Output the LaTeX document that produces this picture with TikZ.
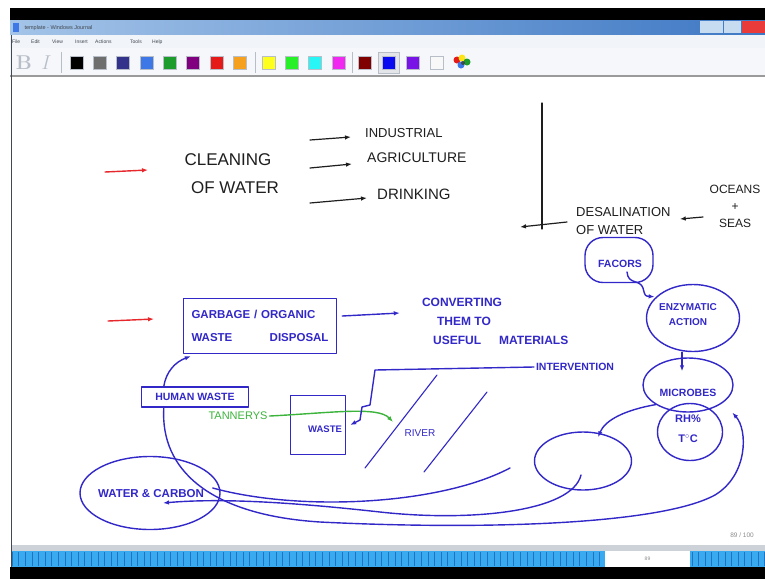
\documentclass[tikz,border=0pt]{standalone}
\usepackage{fontspec}
\newfontfamily\handfont{Liberation Sans}
\newcommand\inkfont[2]{\handfont\fontsize{#1}{#2}\selectfont}
\usepackage{tikz}
\usetikzlibrary{arrows.meta,positioning,calc,shapes.geometric}
\definecolor{JInk}{HTML}{3228C8}
\definecolor{JPencil}{HTML}{1E1E1E}
\definecolor{JRed}{HTML}{E6282D}
\definecolor{JGreen}{HTML}{3CB43C}
\definecolor{JTitleA}{HTML}{A4C4E8}
\definecolor{JTitleB}{HTML}{3E78C4}
\definecolor{JMenu}{HTML}{F1F4F9}
\definecolor{JTool}{HTML}{F5F7FA}
\definecolor{JUiText}{HTML}{404850}
\definecolor{JUiGrey}{HTML}{8C8C8C}
\definecolor{JUiLine}{HTML}{9A9A9A}
\definecolor{JFrame}{HTML}{B8BEC8}
\definecolor{JBar}{HTML}{3AAAF0}
\definecolor{JStripe}{HTML}{1E74C0}
\definecolor{JSwGrey}{HTML}{6E6E6E}
\definecolor{JSwNavy}{HTML}{33338C}
\definecolor{JSwBlue}{HTML}{3D78E6}
\definecolor{JSwGreen}{HTML}{1E9B2D}
\definecolor{JSwPurple}{HTML}{800080}
\definecolor{JSwRed}{HTML}{E61919}
\definecolor{JSwOrange}{HTML}{F5A01E}
\definecolor{JSwYellow}{HTML}{FFFF1E}
\definecolor{JSwLime}{HTML}{28F028}
\definecolor{JSwCyan}{HTML}{28F5F5}
\definecolor{JSwMagenta}{HTML}{F028F0}
\definecolor{JSwMaroon}{HTML}{800000}
\definecolor{JSwRoyal}{HTML}{0A0AF0}
\definecolor{JSwViolet}{HTML}{7814E6}
\definecolor{JSwWhite}{HTML}{F8F8F8}

\begin{document}
\begin{tikzpicture}[x=1pt,y=-1pt,
    handpen/.style={line width=1.4pt,line cap=round,line join=round},
    inkline/.style={handpen,draw=JInk},
    blkline/.style={handpen,draw=JPencil,line width=1.2pt},
    redline/.style={handpen,draw=JRed},
    grnline/.style={handpen,draw=JGreen},
    inktip/.style={-{Latex[length=6pt,width=4.5pt]}},
    blacktext/.style={text=JPencil,inner sep=2pt,font={\inkfont{14}{18}}},
    inktext/.style={text=JInk,inner sep=2pt,font={\inkfont{10.5}{15}\bfseries}},
    blob/.style={ellipse,draw=JInk,handpen,inner sep=0pt},
    inkbox/.style={rectangle,draw=JInk,handpen,inner sep=3pt},
    swatch/.style={draw=JFrame,line width=0.4pt,minimum size=13pt,inner sep=0pt}]
    \useasboundingbox (0,0) rectangle (765,579);
    \fill[white] (0,0) rectangle (765,579);

    % window frame
    \fill[black] (10,8) rectangle (765,20);
    \shade[left color=JTitleA,right color=JTitleB] (10,20) rectangle (765,35);
    \fill[JTitleA!60!white] (700,21) rectangle (723,33);
    \fill[JTitleA!60!white] (724,21) rectangle (741,33);
    \fill[JSwRed!85!white] (742,21) rectangle (765,33);
    \fill[JSwBlue] (13,23) rectangle (19,32);
    \node[anchor=west,text=JUiText,font={\inkfont{5.5}{6}}] (title) at (21,28) {template - Windows Journal};
    \fill[JMenu] (10,35) rectangle (765,48);
    \foreach \m/\x in {File/11,Edit/30,View/51,Insert/74,Actions/94,Tools/129,Help/151}
      \node[anchor=west,text=JUiText,font={\inkfont{5}{5}},inner sep=1pt] (menu\m) at (\x,42) {\m};
    \fill[JTool] (10,48) rectangle (765,75);
    \draw[JUiLine,line width=1.5pt] (10,76) -- (765,76);

    % toolbar
    \node[text=JFrame,font=\bfseries\fontsize{20}{20}\selectfont] (bold) at (24,63) {B};
    \node[text=JFrame,font=\itshape\fontsize{20}{20}\selectfont] (ital) at (45,63) {I};
    \draw[JFrame] (61,52) -- (61,73);
    \foreach \c [count=\i from 0] in {black,JSwGrey,JSwNavy,JSwBlue,JSwGreen,JSwPurple,JSwRed,JSwOrange}
      \node[swatch,fill=\c] (swa\i) at ({76.5+23.3*\i},62.5) {};
    \draw[JFrame] (255,52) -- (255,73);
    \foreach \c [count=\i from 0] in {JSwYellow,JSwLime,JSwCyan,JSwMagenta}
      \node[swatch,fill=\c] (swb\i) at ({268.5+23.3*\i},62.5) {};
    \draw[JFrame] (352,52) -- (352,73);
    \filldraw[fill=JFrame!40!white,draw=JFrame] (378,52) rectangle (399,73);
    \foreach \c [count=\i from 0] in {JSwMaroon,JSwRoyal,JSwViolet,JSwWhite}
      \node[swatch,fill=\c] (swc\i) at ({364.5+24*\i},62.5) {};
    \fill[JSwRed] (457,60) circle (3.5);
    \fill[JSwYellow!80!orange] (462,58) circle (3.5);
    \fill[JSwGreen] (467,62) circle (3.5);
    \fill[JSwBlue] (461,65) circle (3.5);
    \fill[JUiText] (463,63) circle (2);

    % page and page bar
    \draw[JUiText,line width=1pt] (11,35) -- (11,567);
    \fill[JFrame!70!white] (12,545) rectangle (765,551);
    \fill[JBar] (12,551) rectangle (765,567);
    \foreach \i in {0,...,114}
      \draw[JStripe,line width=0.6pt] ({12+\i*6.6},552) -- ({12+\i*6.6},566);
    \node[fill=white,minimum width=85pt,minimum height=16pt,inner sep=0pt,text=JUiGrey,font={\inkfont{5}{5}}] (pgbox) at (647.5,559) {89};
    \fill[black] (10,567) rectangle (765,579);
    \node[text=JUiGrey,font={\inkfont{6.5}{7}}] (pgnum) at (742,535) {89 / 100};

    % cleaning of water
    \coordinate (r1a) at (105,172);
    \coordinate (r1b) at (148,170);
    \draw[redline,inktip] (r1a) -- (r1b);
    \node[blacktext,font={\inkfont{17}{20}}] (cln) at (228,160) {CLEANING};
    \node[blacktext,font={\inkfont{17}{20}}] (ofw) at (235,188) {OF WATER};
    \node[blacktext,font={\inkfont{13}{16}},anchor=west] (ind) at (363,133) {INDUSTRIAL};
    \node[blacktext,anchor=west] (agr) at (365,158) {AGRICULTURE};
    \node[blacktext,font={\inkfont{15}{18}},anchor=west] (drk) at (375,194) {DRINKING};
    \coordinate (a1) at (310,140);
    \coordinate (a2) at (310,168);
    \coordinate (a3) at (310,203);
    \draw[blkline,inktip] (a1) -- ($(ind.west)+(-12,4)$);
    \draw[blkline,inktip] (a2) -- ($(agr.west)+(-13,6)$);
    \draw[blkline,inktip] (a3) -- ($(drk.west)+(-8,4)$);

    % desalination
    \node[blacktext,font={\inkfont{13}{18}},align=left,anchor=west] (desal) at (574,221) {DESALINATION\\OF WATER};
    \node[blacktext,font={\inkfont{12}{17}},align=center] (seas) at (735,206) {OCEANS\\+\\SEAS};
    \coordinate (vtop) at (542,103);
    \coordinate (vbot) at (542,229);
    \coordinate (hl) at (520,227);
    \coordinate (o1) at (703,217);
    \draw[blkline] (vtop) -- (vbot);
    \draw[blkline,inktip] ($(desal.west)+(-7,1)$) -- (hl);
    \draw[blkline,inktip] (o1) -- ($(desal.east)+(7,-2)$);

    % factors, enzymes, microbes
    \node[rectangle,rounded corners=18pt,draw=JInk,handpen,minimum width=68pt,minimum height=45pt] (fac) at (619,260) {};
    \node[inktext] (factxt) at (620,264) {FACORS};
    \node[blob,minimum width=93pt,minimum height=67pt] (enz) at (693,318) {};
    \node[inktext,font={\inkfont{10}{15}\bfseries},align=center] (enztxt) at (688,315) {ENZYMATIC\\ACTION};
    \node[blob,minimum width=90pt,minimum height=54pt] (micro) at (688,385) {};
    \node[inktext] (microtxt) at (688,393) {MICROBES};
    \node[blob,minimum width=65pt,minimum height=57pt] (rh) at (690,432) {};
    \node[inktext,font={\inkfont{11}{20}\bfseries},align=center] (rhtxt) at (688,429) {RH\%\\T$^{\circ}$C};
    \node[blob,minimum width=97pt,minimum height=58pt] (blank) at (583,461) {};
    \draw[inkline,inktip] ($(fac.center)+(8,12)$) .. controls (628,285) and (640,279) .. (643,288)
      .. controls (645,296) .. ($(enz.north west)+(-5,3)$);
    \draw[inkline,inktip] ($(enz.south)+(-11,0)$) -- ($(micro.north)+(-6,14)$);
    \draw[inkline,inktip] (micro.south west) .. controls (625,410) and (605,420) .. ($(blank.north)+(15,6)$);

    % garbage / organic waste
    \coordinate (r2a) at (108,321);
    \coordinate (r2b) at (154,319);
    \draw[redline,inktip] (r2a) -- (r2b);
    \node[inkbox,minimum width=153pt,minimum height=55pt,text width=137pt,align=left,text=JInk,font={\inkfont{11.5}{23}\bfseries}] (garb) at (260,326)
      {GARBAGE / ORGANIC\\WASTE\hfill DISPOSAL};
    \node[inktext,font={\inkfont{12}{16}\bfseries}] (conv1) at (462,302) {CONVERTING};
    \node[inktext,font={\inkfont{12}{16}\bfseries}] (conv2) at (464,321) {THEM TO};
    \node[inktext,font={\inkfont{12}{16}\bfseries},anchor=west] (conv3) at (431,340) {USEFUL\hspace{18pt}MATERIALS};
    \draw[inkline,inktip] ($(garb.east)+(5,-10)$) -- ($(conv1.west)+(-20,11)$);

    % human waste, tanneries, river
    \node[inkbox,minimum width=107pt,minimum height=20pt,text=JInk,font={\inkfont{10.5}{12}\bfseries}] (hw) at (195,397) {HUMAN WASTE};
    \draw[inkline,inktip] ($(hw.north west)+(23,0)$) .. controls (166,372) and (175,362) .. ($(garb.south west)+(8,2)$);
    \node[inkbox,minimum width=55pt,minimum height=59pt] (tank) at (318,425) {};
    \node[inktext,font={\inkfont{9.5}{12}\bfseries}] (tanktxt) at (325,429) {WASTE};
    \node[inktext,text=JGreen,font={\inkfont{11}{15}}] (tan) at (238,416) {TANNERYS};
    \coordinate (rivin) at (393,422);
    \draw[grnline,inktip] (tan.east) .. controls (330,413) and (378,406) .. (rivin);
    \coordinate (rv1a) at (437,375);
    \coordinate (rv1b) at (365,468);
    \coordinate (rv2a) at (487,392);
    \coordinate (rv2b) at (424,472);
    \draw[inkline,line width=1.1pt] (rv1a) -- (rv1b);
    \draw[inkline,line width=1.1pt] (rv2a) -- (rv2b);
    \node[inktext,font={\inkfont{10}{12}}] (rvr) at (420,433) {RIVER};
    \node[inktext] (intv) at (575,367) {INTERVENTION};
    \draw[inkline,inktip] (intv.west) -- (375,370) -- (370,405) -- (362,407) -- (360,420) -- ($(tank.east)+(4,0)$);

    % water & carbon and the long loops
    \node[blob,minimum width=140pt,minimum height=73pt] (wc) at (150,493) {};
    \node[inktext,font={\inkfont{11.5}{14}\bfseries}] (wctxt) at (151,494) {WATER \& CARBON};
    \draw[inkline,inktip] ($(hw.south west)+(23,0)$) .. controls (160,470) and (210,515) .. (320,522)
      .. controls (480,530) and (660,525) .. (715,495)
      .. controls (748,475) and (748,430) .. ($(micro.south east)+(12,8)$);
    \draw[inkline,inktip] ($(blank.center)+(-2,14)$) .. controls (572,512) and (470,522) .. (380,512)
      .. controls (290,502) and (220,498) .. ($(wctxt.center)+(12,9)$);
    \coordinate (rivend) at (510,468);
    \draw[inkline] (rivend) .. controls (440,505) and (300,512) .. ($(wc.east)+(-8,-5)$);
\end{tikzpicture}
\end{document}
